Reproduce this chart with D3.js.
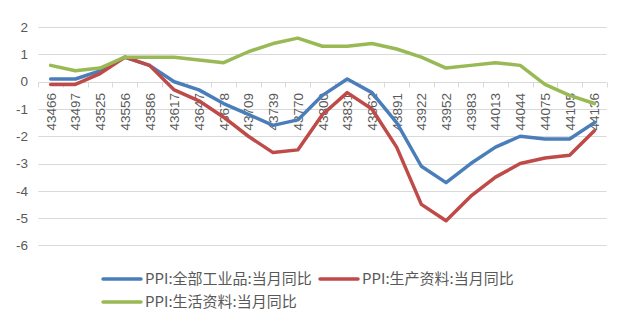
<!DOCTYPE html>
<html><head><meta charset="utf-8">
<script src="https://cdn.jsdelivr.net/npm/d3@7"></script>
<style>body{margin:0;background:#fff;}svg{display:block;font-family:"Liberation Sans",Arial,sans-serif;}</style>
</head><body><svg id="c" width="622" height="333"></svg>
<script>
const categories = ["43466","43497","43525","43556","43586","43617","43647","43678","43709","43739","43770","43800","43831","43862","43891","43922","43952","43983","44013","44044","44075","44105","44136"];
const seriesNames = ["PPI:全部工业品:当月同比","PPI:生产资料:当月同比","PPI:生活资料:当月同比"];
const allIndustry = [0.1,0.1,0.4,0.9,0.6,0.0,-0.3,-0.8,-1.2,-1.6,-1.4,-0.5,0.1,-0.4,-1.5,-3.1,-3.7,-3.0,-2.4,-2.0,-2.1,-2.1,-1.5];
const production = [-0.1,-0.1,0.3,0.9,0.6,-0.3,-0.7,-1.3,-2.0,-2.6,-2.5,-1.2,-0.4,-1.0,-2.4,-4.5,-5.1,-4.2,-3.5,-3.0,-2.8,-2.7,-1.8];
const living = [0.6,0.4,0.5,0.9,0.9,0.9,0.8,0.7,1.1,1.4,1.6,1.3,1.3,1.4,1.2,0.9,0.5,0.6,0.7,0.6,-0.1,-0.5,-0.8];
const yTicks = [2,1,0,-1,-2,-3,-4,-5,-6];
const colors = ["#4a7ebb","#be4b48","#98b954"];

const svg = d3.select("#c");
const x = d3.scaleBand().domain(categories).range([38.3,606.7]);
const y = d3.scaleLinear().domain([-6,2]).range([245.3,27.2]);

// gridlines
svg.append("g").selectAll("line").data(yTicks).join("line")
  .attr("x1",38.3).attr("x2",606.7)
  .attr("y1",d=>Math.round(y(d))+0.5).attr("y2",d=>Math.round(y(d))+0.5)
  .attr("stroke","#d9d9d9").attr("stroke-width",1);

// y labels
svg.append("g").selectAll("text").data(yTicks).join("text")
  .attr("x",28).attr("y",d=>y(d)).attr("dy","0.35em")
  .attr("text-anchor","end").attr("font-size",13.5).attr("fill","#595959")
  .text(d=>d);

// category axis at zero
const y0 = Math.round(y(0))+0.5;
const bounds = categories.map(c=>x(c)).concat([x.range()[1]]);
svg.append("g").selectAll("line").data(bounds).join("line")
  .attr("x1",d=>Math.round(d)+0.5).attr("x2",d=>Math.round(d)+0.5)
  .attr("y1",y0).attr("y2",y0+5)
  .attr("stroke","#d9d9d9");
svg.append("g").selectAll("text").data(categories).join("text")
  .attr("transform",d=>`translate(${x(d)+x.bandwidth()/2+5},${y0+10.5}) rotate(-90)`)
  .attr("text-anchor","end").attr("font-size",13.5).attr("fill","#595959")
  .text(d=>d);

// lines
const data = [allIndustry,production,living];
const line = d3.line().x((d,i)=>x(categories[i])+x.bandwidth()/2).y(d=>y(d));
data.forEach((s,k)=>{
  svg.append("path").datum(s).attr("d",line)
    .attr("fill","none").attr("stroke",colors[k]).attr("stroke-width",3.5)
    .attr("stroke-linejoin","round").attr("stroke-linecap","round");
});

// legend
const leg = [{x:103,y:279},{x:320,y:279},{x:103,y:302}];
seriesNames.forEach((n,k)=>{
  const g = svg.append("g").attr("transform",`translate(${leg[k].x},${leg[k].y})`);
  g.append("line").attr("x1",0).attr("x2",38).attr("y1",0).attr("y2",0)
    .attr("stroke",colors[k]).attr("stroke-width",3.5).attr("stroke-linecap","round");
  g.append("text").attr("x",42).attr("y",0).attr("dy","0.35em")
    .attr("font-size",15).attr("fill","#595959")
    .attr("font-family","'Noto Sans CJK SC','Liberation Sans',sans-serif").text(n);
});
</script></body></html>
